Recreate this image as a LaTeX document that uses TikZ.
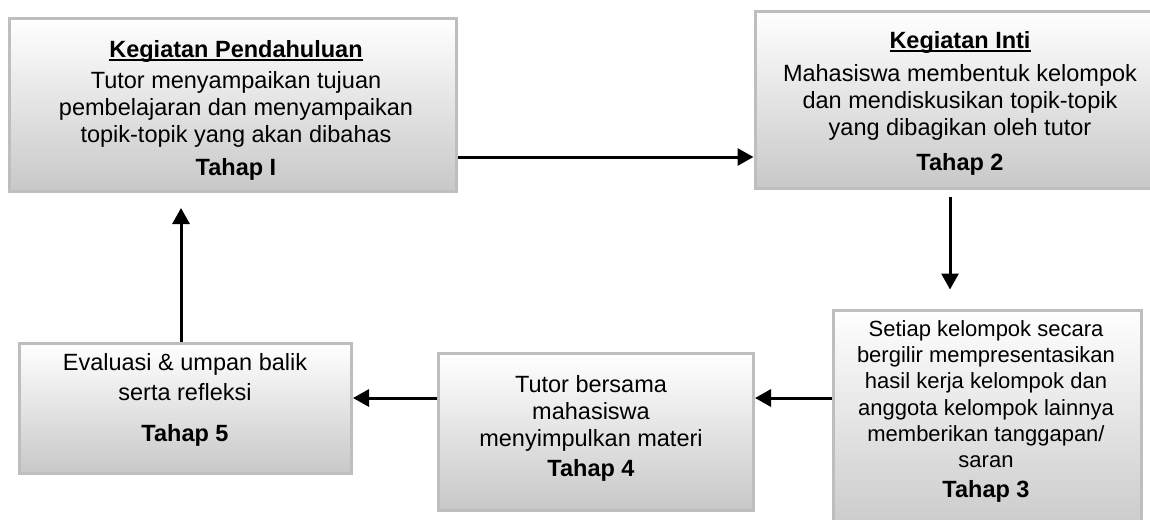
\documentclass[tikz,border=0pt]{standalone}
\usepackage{fontspec}
\setmainfont{Liberation Sans}
\usetikzlibrary{arrows.meta}
\definecolor{boxedge}{RGB}{190,190,190}
\definecolor{boxbottom}{RGB}{200,200,200}
\newsavebox{\headbox}
\newcommand{\headul}[1]{\sbox{\headbox}{#1}\rlap{\rule[-4pt]{\wd\headbox}{1.6pt}}\usebox{\headbox}}
\tikzset{
  stagebox/.style={draw=boxedge, line width=3pt, top color=white, bottom color=boxbottom, inner sep=0pt, rectangle},
  stagetext/.style={align=center, inner sep=0pt, font=\fontsize{23.5}{27}\selectfont},
  flow/.style={line width=3pt, -{Triangle[length=16pt,width=17pt]}}
}
\begin{document}
\begin{tikzpicture}[x=1pt,y=-1pt]
\useasboundingbox (0,0) rectangle (1150,519);
\clip (0,0) rectangle (1150,519);
% boxes
\node[stagebox, minimum width=447pt, minimum height=173pt] (b1) at (233,105) {};
\node[stagebox, minimum width=410pt, minimum height=177pt] (b2) at (960,100) {};
\node[stagebox, minimum width=308pt, minimum height=230pt] (b3) at (987.5,425) {};
\node[stagebox, minimum width=315pt, minimum height=157pt] (b4) at (596,432) {};
\node[stagebox, minimum width=332pt, minimum height=130pt] (b5) at (185.5,408.5) {};
% texts
\node[stagetext] (t1) at (236,110) {\textbf{\headul{Kegiatan Pendahuluan}}\\[4pt]
Tutor menyampaikan tujuan\\
pembelajaran dan menyampaikan\\
topik-topik yang akan dibahas\\[6pt]
\textbf{Tahap I}};
\node[stagetext] (t2) at (960,103) {\textbf{\headul{Kegiatan Inti}}\\[6pt]
Mahasiswa membentuk kelompok\\
dan mendiskusikan topik-topik\\
yang dibagikan oleh tutor\\[8pt]
\textbf{Tahap 2}};
\node[stagetext, font=\fontsize{22}{26.3}\selectfont] (t3) at (986,411.5) {Setiap kelompok secara\\
bergilir mempresentasikan\\
hasil kerja kelompok dan\\
anggota kelompok lainnya\\
memberikan tanggapan/\\
saran\\[4pt]
{\fontsize{23.5}{27}\selectfont\textbf{Tahap 3}}};
\node[stagetext] (t4) at (591,428.5) {Tutor bersama\\
mahasiswa\\
menyimpulkan materi\\[3pt]
\textbf{Tahap 4}};
\node[stagetext] (t5) at (185,399.5) {Evaluasi \& umpan balik\\[3pt]
serta refleksi\\[14pt]
\textbf{Tahap 5}};
% connector helpers
\coordinate (r1) at (600,157);
\coordinate (r2) at (600,398);
\coordinate (c2) at (950,250);
\coordinate (c5) at (181,250);
% connectors
\draw[flow] (b1.east |- r1) -- (b2.west |- r1);
\draw[flow, shorten <=7pt, shorten >=19pt] (b2.south -| c2) -- (b3.north -| c2);
\draw[flow] (b3.west |- r2) -- (b4.east |- r2);
\draw[flow] (b4.west |- r2) -- (b5.east |- r2);
\draw[flow, shorten >=15pt] (b5.north -| c5) -- (b1.south -| c5);
\end{tikzpicture}
\end{document}
